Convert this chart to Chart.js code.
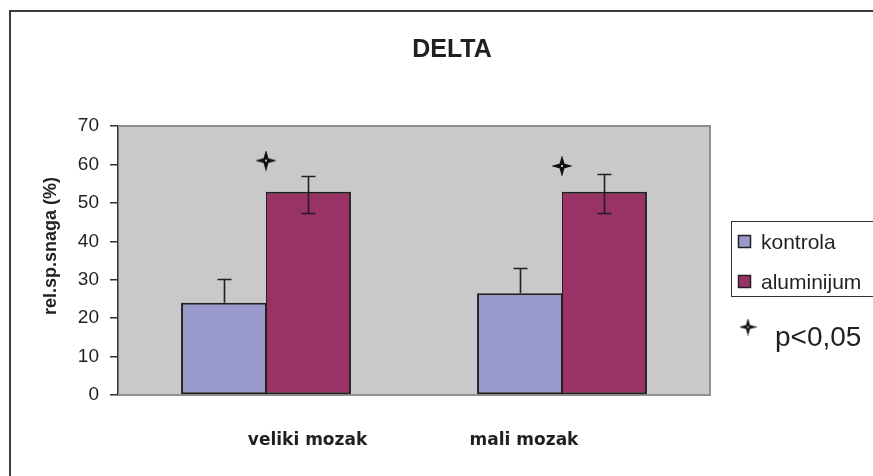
<!DOCTYPE html>
<html>
<head>
<meta charset="utf-8">
<script src="https://cdn.jsdelivr.net/npm/chart.js@4/dist/chart.umd.min.js"></script>
<style>
  html, body { margin: 0; padding: 0; background: #ffffff; }
  #wrap { width: 873px; height: 476px; position: relative; }
  canvas { display: block; }
</style>
</head>
<body>
<div id="wrap"><canvas id="c" width="873" height="476"></canvas></div>
<script>
// ---- data ----
const chartTitle = 'DELTA';
const yAxisTitle = 'rel.sp.snaga (%)';
const categories = ['veliki mozak', 'mali mozak'];
const seriesNames = ['kontrola', 'aluminijum'];
const kontrola = [24.0, 26.5];
const kontrolaErrPlus = [6.2, 6.6];
const kontrolaErrMinus = [0, 0];
const aluminijum = [52.9, 52.9];
const aluminijumErrPlus = [4.1, 4.6];
const aluminijumErrMinus = [5.5, 5.5];
const significanceLabel = 'p<0,05';
const significance = [61.0, 59.6];
const yMin = 0, yMax = 70, yStep = 10;

// ---- styles ----
const colKontrola = '#9999cc';
const colAlum = '#993366';
const colEdge = '#231f20';
const colPlot = '#c9c9cb';

function makeStar(r, lw) {
  const s = Math.ceil(r * 2 + 4);
  const cv = document.createElement('canvas');
  cv.width = s; cv.height = s;
  const g = cv.getContext('2d');
  const c = s / 2, k = r * 0.22;
  g.beginPath();
  g.moveTo(c, c - r);
  g.lineTo(c + k, c - k);
  g.lineTo(c + r, c);
  g.lineTo(c + k, c + k);
  g.lineTo(c, c + r);
  g.lineTo(c - k, c + k);
  g.lineTo(c - r, c);
  g.lineTo(c - k, c - k);
  g.closePath();
  g.fillStyle = '#111';
  g.fill();
  g.lineWidth = lw;
  g.strokeStyle = '#111';
  g.stroke();
  g.fillStyle = '#fff';
  g.beginPath();
  g.arc(c, c, lw * 0.6, 0, Math.PI * 2);
  g.fill();
  return cv;
}
const starImg = makeStar(8, 1.6);
const starLegend = makeStar(6.5, 1.4);

const errors = [
  { plus: kontrolaErrPlus, minus: kontrolaErrMinus },
  { plus: aluminijumErrPlus, minus: aluminijumErrMinus }
];

const decorPlugin = {
  id: 'decor',
  beforeDraw(chart) {
    const { ctx, chartArea: a } = chart;
    ctx.save();
    ctx.fillStyle = '#ffffff';
    ctx.fillRect(0, 0, chart.width, chart.height);
    ctx.fillStyle = colPlot;
    ctx.fillRect(a.left, a.top, a.right - a.left, a.bottom - a.top);
    ctx.restore();
  },
  beforeDatasetsDraw(chart) {
    const { ctx, chartArea: a } = chart;
    ctx.save();
    ctx.strokeStyle = '#8f8f8f';
    ctx.lineWidth = 2;
    ctx.beginPath();
    ctx.moveTo(a.left, a.top);
    ctx.lineTo(a.right, a.top);
    ctx.lineTo(a.right, a.bottom);
    ctx.lineTo(a.left, a.bottom);
    ctx.stroke();
    ctx.restore();
  },
  afterDatasetsDraw(chart) {
    const { ctx } = chart;
    const y = chart.scales.y;
    ctx.save();
    ctx.strokeStyle = colEdge;
    ctx.lineWidth = 1.6;
    errors.forEach((e, di) => {
      const meta = chart.getDatasetMeta(di);
      const vals = chart.data.datasets[di].data;
      meta.data.forEach((bar, j) => {
        const v = vals[j];
        const yTop = y.getPixelForValue(v + e.plus[j]);
        const yBot = y.getPixelForValue(v - e.minus[j]);
        const x = Math.round(bar.x) + 0.5;
        ctx.beginPath();
        ctx.moveTo(x, yTop);
        ctx.lineTo(x, yBot);
        ctx.moveTo(x - 7, Math.round(yTop) + 0.5);
        ctx.lineTo(x + 7, Math.round(yTop) + 0.5);
        if (e.minus[j] > 0) {
          ctx.moveTo(x - 7, Math.round(yBot) + 0.5);
          ctx.lineTo(x + 7, Math.round(yBot) + 0.5);
        }
        ctx.stroke();
      });
    });
    ctx.restore();
  },
  afterDraw(chart) {
    const { ctx } = chart;
    const x = chart.scales.x;
    ctx.save();
    // outer frame
    ctx.strokeStyle = '#3c3c3c';
    ctx.lineWidth = 2;
    ctx.beginPath();
    ctx.moveTo(10, chart.height);
    ctx.lineTo(10, 11);
    ctx.lineTo(chart.width, 11);
    ctx.stroke();

    // title
    ctx.fillStyle = '#231f20';
    ctx.font = 'bold 25px "Liberation Sans", Arial, sans-serif';
    ctx.textAlign = 'center';
    ctx.textBaseline = 'alphabetic';
    ctx.fillText(chartTitle, 452, 57);

    // y axis title
    ctx.save();
    ctx.translate(56, 246);
    ctx.rotate(-Math.PI / 2);
    ctx.font = 'bold 18px "Liberation Sans", Arial, sans-serif';
    ctx.textAlign = 'center';
    ctx.fillText(yAxisTitle, 0, 0);
    ctx.restore();

    // category labels
    const labelShift = [41.5, -38];
    ctx.font = 'bold 17px "DejaVu Sans", sans-serif';
    ctx.textAlign = 'center';
    chart.data.labels.forEach((lab, i) => {
      ctx.fillText(lab, x.getPixelForValue(i) + labelShift[i], 445);
    });

    // legend box
    ctx.strokeStyle = '#333';
    ctx.lineWidth = 1;
    ctx.strokeRect(731.5, 221.5, 200, 75);
    ctx.font = '21px "Liberation Sans", Arial, sans-serif';
    ctx.textAlign = 'left';
    const ds = chart.data.datasets;
    [0, 1].forEach(i => {
      const ty = 235 + i * 40;
      ctx.fillStyle = ds[i].backgroundColor;
      ctx.fillRect(738, ty, 13, 13);
      ctx.strokeStyle = colEdge;
      ctx.lineWidth = 1.5;
      ctx.strokeRect(738.5, ty + 0.5, 12, 12);
      ctx.fillStyle = '#231f20';
      ctx.fillText(ds[i].label, 761, ty + 14);
    });
    // significance key
    ctx.drawImage(starLegend, 748 - starLegend.width / 2, 327 - starLegend.height / 2);
    ctx.font = '28px "Liberation Sans", Arial, sans-serif';
    ctx.fillStyle = '#231f20';
    ctx.fillText(ds[2].label, 775, 346);
    ctx.restore();
  }
};

new Chart(document.getElementById('c'), {
  type: 'bar',
  data: {
    labels: categories,
    datasets: [
      {
        label: seriesNames[0],
        data: kontrola,
        backgroundColor: colKontrola,
        borderColor: colEdge,
        borderWidth: { top: 2, left: 2, bottom: 2, right: 1 },
        borderSkipped: false,
        barPercentage: 1.0,
        categoryPercentage: 0.574
      },
      {
        label: seriesNames[1],
        data: aluminijum,
        backgroundColor: colAlum,
        borderColor: colEdge,
        borderWidth: { top: 2, left: 1, bottom: 2, right: 2 },
        borderSkipped: false,
        barPercentage: 1.0,
        categoryPercentage: 0.574
      },
      {
        type: 'line',
        label: significanceLabel,
        data: significance,
        showLine: false,
        pointStyle: starImg,
        pointRadius: 8,
        pointHoverRadius: 8
      }
    ]
  },
  options: {
    responsive: false,
    animation: false,
    devicePixelRatio: 1,
    layout: { padding: { left: 0, right: 163, top: 126, bottom: 0 } },
    plugins: {
      legend: { display: false },
      title: { display: false },
      tooltip: { enabled: false }
    },
    scales: {
      x: {
        type: 'category',
        offset: true,
        grid: { display: false },
        border: { display: false },
        ticks: { display: false },
        afterFit(s) { s.height = 81; }
      },
      y: {
        min: yMin,
        max: yMax,
        ticks: {
          stepSize: yStep,
          color: '#231f20',
          padding: 11,
          font: { family: '"Liberation Sans", Arial, sans-serif', size: 19 }
        },
        grid: {
          drawOnChartArea: false,
          drawTicks: true,
          tickLength: 8,
          color: '#333',
          lineWidth: 1.5
        },
        border: { display: true, color: '#333', width: 1.5 },
        afterFit(s) { s.width = 118; }
      }
    }
  },
  plugins: [decorPlugin]
});
</script>
</body>
</html>
